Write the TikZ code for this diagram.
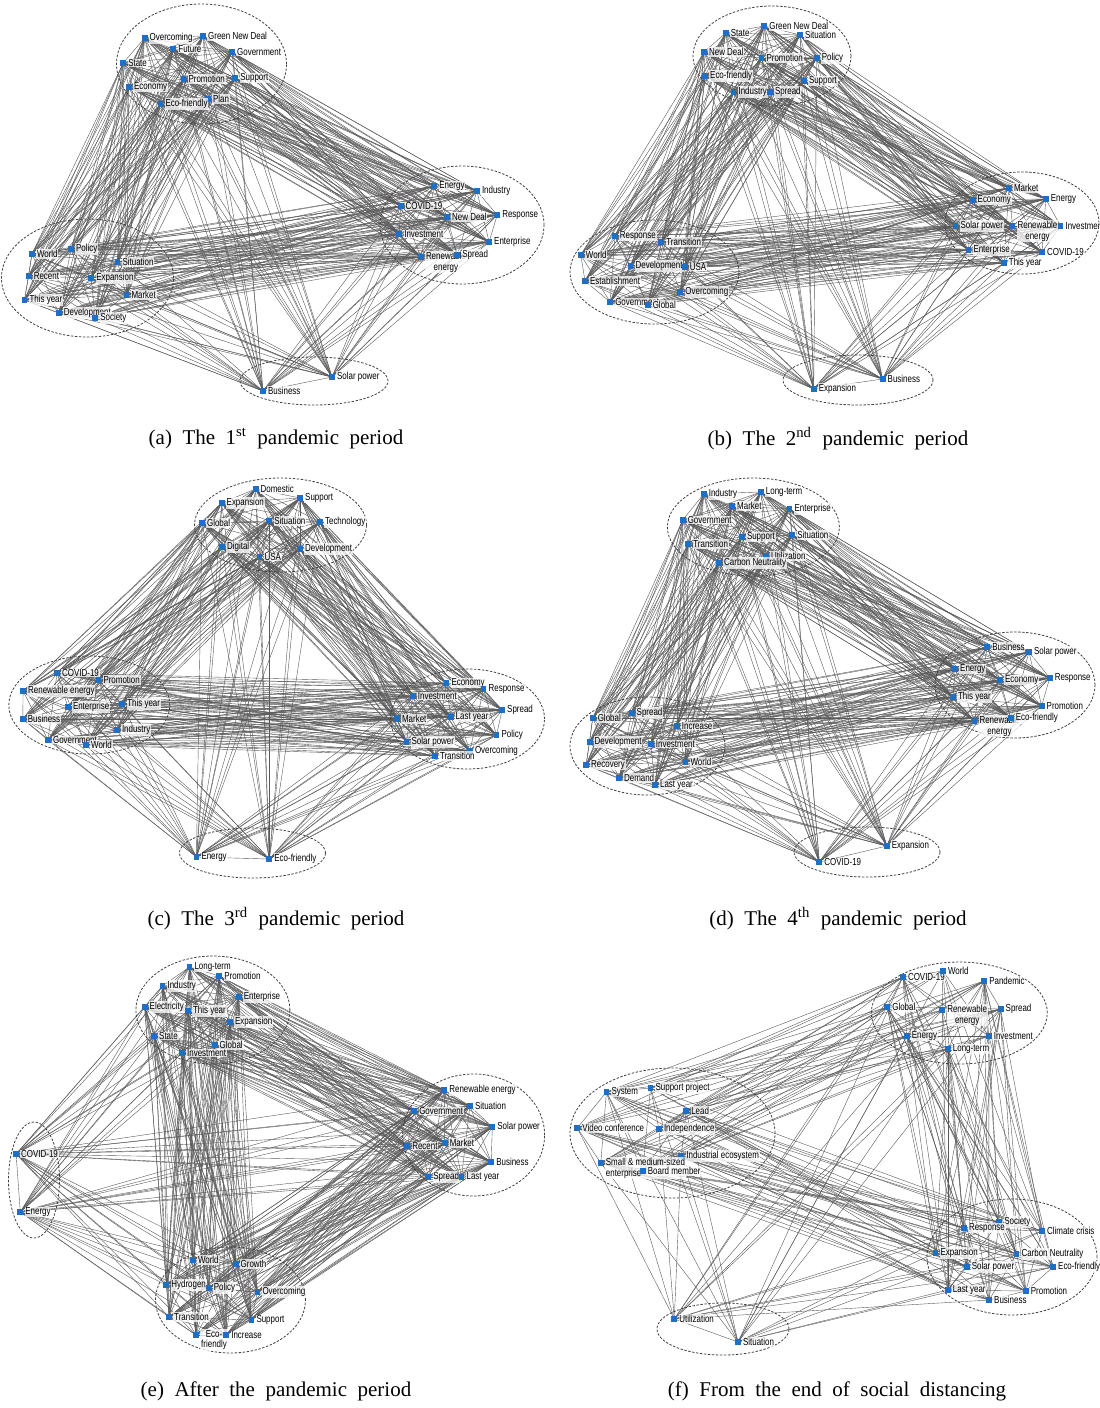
\documentclass[tikz,border=0pt]{standalone}
\usepackage{fontspec}
\setmainfont{Liberation Serif}
\newfontfamily\labfont[FakeStretch=0.78]{Liberation Sans}
\usetikzlibrary{calc}
\pgfdeclarelayer{bg}
\pgfdeclarelayer{paper}
\pgfsetlayers{paper,bg,main}
\definecolor{mkblue}{RGB}{31,111,196}
\definecolor{edgegray}{RGB}{90,90,90}
\tikzset{
 mk/.style={rectangle, fill=mkblue, draw=none, minimum size=2.9pt, inner sep=0pt},
 lab/.style={font=\labfont\fontsize{5.1}{5.3}\selectfont, inner sep=0.4pt, fill=white, fill opacity=0.75, text opacity=1, anchor=west},
 edge/.style={draw=edgegray, line width=0.2pt},
 grp/.style={draw=black!75, dash pattern=on 1.2pt off 0.8pt, line width=0.4pt},
 captxt/.style={font=\fontsize{10.5}{12}\selectfont, anchor=center, inner sep=0pt}
}
\newcommand\nd[4]{\node[mk] (#1) at (#2,#3) {}; \node[lab] (#1l) at ([xshift=0.3pt]#1.east) {#4};}
\newcommand\ndtwo[5]{\node[mk] (#1) at (#2,#3) {}; \node[lab, anchor=north west, align=#5] (#1l) at ([xshift=0.3pt,yshift=3pt]#1.east) {#4};}
\newcommand\grpell[4]{\draw[grp] (#1,#2) ellipse [x radius=#3*0.5pt, y radius=#4*0.5pt];}
\newcommand\fullgraph[2]{\foreach \i in {1,...,#2}{\foreach \j in {1,...,#2}{\ifnum\j>\i\relax \draw[edge] (#1\i.center) -- (#1\j.center);\fi}}}
\newcommand\partgraph[2]{\foreach \i in {1,...,#2}{\foreach \j in {1,...,#2}{\ifnum\j>\i\relax \pgfmathtruncatemacro\rr{mod(\i*7+\j*3,9)}\ifnum\rr<5\relax \draw[edge] (#1\i.center) -- (#1\j.center);\fi\fi}}}
\newcommand\gap{\hspace{0.5em}}
\begin{document}
\begin{tikzpicture}[x=0.5pt,y=-0.5pt]
\useasboundingbox (0,0) rectangle (1099,1408);
\begin{pgfonlayer}{paper}\fill[white] (0,0) rectangle (1099,1408);\end{pgfonlayer}

% ---------------- (a)
\grpell{201.5}{64}{85}{60}
\grpell{462}{225}{82}{59}
\grpell{87.5}{278}{86}{59}
\grpell{314}{381}{74}{24}
\nd{a1}{144.6}{38}{Overcoming}
\nd{a2}{203.1}{36}{Green New Deal}
\nd{a3}{173.3}{49}{Future}
\nd{a4}{232.1}{52}{Government}
\nd{a5}{123.2}{63}{State}
\nd{a6}{183.5}{79}{Promotion}
\nd{a7}{235.3}{78}{Support}
\nd{a8}{128.9}{87}{Economy}
\nd{a9}{208}{99}{Plan}
\nd{a10}{160.4}{104}{Eco-friendly}
\nd{a11}{434.2}{186}{Energy}
\nd{a12}{476.9}{191}{Industry}
\nd{a13}{400.6}{206}{COVID-19}
\nd{a14}{447.1}{217}{New Deal}
\nd{a15}{497.2}{215}{Response}
\nd{a16}{399.2}{234}{Investment}
\nd{a17}{489.1}{242}{Enterprise}
\ndtwo{a18}{420.9}{257}{Renewable\\energy}{center}
\nd{a19}{457.3}{255}{Spread}
\nd{a20}{31.9}{254}{World}
\nd{a21}{71}{249}{Policy}
\nd{a22}{117.5}{262}{Situation}
\nd{a23}{28.7}{276}{Recent}
\nd{a24}{91.2}{278}{Expansion}
\nd{a25}{24.5}{300}{This year}
\nd{a26}{126.4}{295}{Market}
\nd{a27}{58.8}{313}{Development}
\nd{a28}{95.2}{318}{Society}
\nd{a29}{263}{391}{Business}
\nd{a30}{332}{377}{Solar power}
\begin{pgfonlayer}{bg}\fullgraph{a}{30}\end{pgfonlayer}
\node[captxt] (capa) at (276,439) {(a)\gap The\gap 1\textsuperscript{st}\gap pandemic\gap period};

% ---------------- (b)
\grpell{772}{56}{79}{50}
\grpell{1022}{223}{77}{51}
\grpell{654.5}{272}{84.5}{52}
\grpell{858}{380}{75}{25}
\nd{b1}{725.8}{33}{State}
\nd{b2}{764.3}{26}{Green New Deal}
\nd{b3}{800}{35}{Situation}
\nd{b4}{704}{52}{New Deal}
\nd{b5}{761.5}{58}{Promotion}
\nd{b6}{816.8}{58}{Policy}
\nd{b7}{705.1}{76}{Eco-friendly}
\nd{b8}{803.9}{81}{Support}
\nd{b9}{733.5}{92}{Industry}
\nd{b10}{769.9}{92}{Spread}
\nd{b11}{1009}{188}{Market}
\nd{b12}{972.6}{200}{Economy}
\nd{b13}{1045.8}{199}{Energy}
\nd{b14}{955.5}{226}{Solar power}
\ndtwo{b15}{1012.5}{226}{Renewable\\energy}{center}
\nd{b16}{1060.5}{226}{Investment}
\nd{b17}{968.4}{250}{Enterprise}
\nd{b18}{1042}{252}{COVID-19}
\nd{b19}{1003.8}{263}{This year}
\nd{b20}{614.8}{236}{Response}
\nd{b21}{661.3}{242}{Transition}
\nd{b22}{580.8}{255}{World}
\nd{b23}{630.5}{266}{Development}
\nd{b24}{684.8}{267}{USA}
\nd{b25}{585}{281}{Establishment}
\nd{b26}{680.3}{292}{Overcoming}
\nd{b27}{610.2}{302}{Government}
\nd{b28}{647.7}{305}{Global}
\nd{b29}{813.7}{389}{Expansion}
\nd{b30}{882.6}{379}{Business}
\begin{pgfonlayer}{bg}\fullgraph{b}{30}\end{pgfonlayer}
\node[captxt] (capb) at (838,439) {(b)\gap The\gap 2\textsuperscript{nd}\gap pandemic\gap period};

% ---------------- (c)
\grpell{280.5}{525}{86}{47}
\grpell{89.3}{705}{80.5}{49}
\grpell{467.5}{719}{77}{50}
\grpell{252.5}{853}{73}{25}
\nd{c1}{255.6}{489}{Domestic}
\nd{c2}{221.6}{503}{Expansion}
\nd{c3}{300.1}{498}{Support}
\nd{c4}{202}{523}{Global}
\nd{c5}{269.3}{521}{Situation}
\nd{c6}{320}{522}{Technology}
\nd{c7}{222}{547}{Digital}
\nd{c8}{259.5}{557}{USA}
\nd{c9}{300.1}{549}{Development}
\nd{c10}{57.1}{673}{COVID-19}
\nd{c11}{98.4}{680}{Promotion}
\nd{c12}{23.1}{691}{Renewable energy}
\nd{c13}{67.9}{707}{Enterprise}
\nd{c14}{122.2}{704}{This year}
\nd{c15}{22.8}{719}{Business}
\nd{c16}{116.9}{730}{Industry}
\nd{c17}{48}{740}{Government}
\nd{c18}{86.1}{745}{World}
\nd{c19}{446.4}{683}{Economy}
\nd{c20}{483.5}{689}{Response}
\nd{c21}{412.8}{696}{Investment}
\nd{c22}{502.1}{710}{Spread}
\nd{c23}{397}{719}{Market}
\nd{c24}{450.6}{717}{Last year}
\nd{c25}{496.5}{735}{Policy}
\nd{c26}{406.5}{742}{Solar power}
\nd{c27}{469.9}{751}{Overcoming}
\nd{c28}{434.9}{756}{Transition}
\nd{c29}{196.4}{857}{Energy}
\nd{c30}{269.3}{859}{Eco-friendly}
\begin{pgfonlayer}{bg}\fullgraph{c}{30}\end{pgfonlayer}
\node[captxt] (capc) at (276,919) {(c)\gap The\gap 3\textsuperscript{rd}\gap pandemic\gap period};

% ---------------- (d)
\grpell{753.4}{527}{86}{49}
\grpell{1015}{685}{80}{53}
\grpell{647.5}{746}{77.5}{49}
\grpell{867}{852}{73}{25}
\nd{d1}{703.7}{494}{Industry}
\nd{d2}{760.8}{492}{Long-term}
\nd{d3}{732.1}{506}{Market}
\nd{d4}{789.5}{509}{Enterprise}
\nd{d5}{682.7}{520}{Government}
\nd{d6}{741.9}{537}{Support}
\nd{d7}{792.3}{535}{Situation}
\nd{d8}{688.3}{544}{Transition}
\nd{d9}{766}{556}{Utilization}
\nd{d10}{719.1}{563}{Carbon Neutrality}
\nd{d11}{987.3}{647}{Business}
\nd{d12}{1029}{652}{Solar power}
\nd{d13}{955.1}{669}{Energy}
\nd{d14}{1000}{680}{Economy}
\nd{d15}{1049.7}{678}{Response}
\nd{d16}{953}{697}{This year}
\nd{d17}{1041.6}{706}{Promotion}
\ndtwo{d18}{974.4}{721}{Renewable\\energy}{center}
\nd{d19}{1010.8}{718}{Eco-friendly}
\nd{d20}{592.7}{718}{Global}
\nd{d21}{631.6}{713}{Spread}
\nd{d22}{676.8}{726}{Increase}
\nd{d23}{589.6}{742}{Development}
\nd{d24}{650.8}{744}{Investment}
\nd{d25}{586.1}{765}{Recovery}
\nd{d26}{685.5}{762}{World}
\nd{d27}{619}{778}{Demand}
\nd{d28}{655}{785}{Last year}
\nd{d29}{819.3}{862}{COVID-19}
\nd{d30}{886.8}{846}{Expansion}
\begin{pgfonlayer}{bg}\fullgraph{d}{30}\end{pgfonlayer}
\node[captxt] (capd) at (838,919) {(d)\gap The\gap 4\textsuperscript{th}\gap pandemic\gap period};

% ---------------- (e)
\grpell{212.9}{1010}{77}{54}
\grpell{473.6}{1135}{71}{61}
\grpell{34}{1180}{25.5}{58}
\grpell{230.5}{1300}{75}{53}
\nd{e1}{189.4}{967}{Long-term}
\nd{e2}{219.2}{976}{Promotion}
\nd{e3}{162.5}{986}{Industry}
\nd{e4}{238.8}{997}{Enterprise}
\nd{e5}{144.6}{1007}{Electricity}
\nd{e6}{188}{1011}{This year}
\nd{e7}{230}{1022}{Expansion}
\nd{e8}{154.1}{1036}{State}
\nd{e9}{214.6}{1045}{Global}
\nd{e10}{182.1}{1053}{Investment}
\nd{e11}{444.3}{1090}{Renewable energy}
\nd{e12}{469.9}{1106}{Situation}
\nd{e13}{414.2}{1111}{Government}
\nd{e14}{492.3}{1127}{Solar power}
\nd{e15}{407.2}{1146}{Recent}
\nd{e16}{444.7}{1143}{Market}
\nd{e17}{491.2}{1162}{Business}
\nd{e18}{428.2}{1177}{Spread}
\nd{e19}{461.5}{1177}{Last year}
\nd{e20}{16.1}{1154}{COVID-19}
\nd{e21}{20.3}{1212}{Energy}
\nd{e22}{192.9}{1260}{World}
\nd{e23}{235.6}{1264}{Growth}
\nd{e24}{166.3}{1285}{Hydrogen}
\nd{e25}{208.7}{1288}{Policy}
\nd{e26}{257.4}{1292}{Overcoming}
\nd{e27}{169.1}{1317}{Transition}
\nd{e28}{251.4}{1320}{Support}
\ndtwo{e29}{196.1}{1335}{Eco-\\friendly}{center}
\nd{e30}{226.2}{1335}{Increase}
\begin{pgfonlayer}{bg}\fullgraph{e}{30}\end{pgfonlayer}
\node[captxt] (cape) at (276,1391) {(e)\gap After\gap the\gap pandemic\gap period};

% ---------------- (f)
\grpell{959.3}{1013}{88}{51}
\grpell{672.5}{1133}{102.5}{65}
\grpell{1012}{1257}{85}{58}
\grpell{723}{1329}{66}{26}
\nd{f1}{902.9}{977}{COVID-19}
\nd{f2}{942.9}{971}{World}
\nd{f3}{984.2}{981}{Pandemic}
\nd{f4}{887.2}{1007}{Global}
\ndtwo{f5}{942.2}{1010}{Renewable\\energy}{center}
\nd{f6}{1000.6}{1009}{Spread}
\nd{f7}{906.8}{1036}{Energy}
\nd{f8}{988.7}{1036}{Investment}
\nd{f9}{947.8}{1049}{Long-term}
\nd{f10}{606.4}{1092}{System}
\nd{f11}{650.5}{1088}{Support project}
\nd{f12}{686.2}{1111}{Lead}
\nd{f13}{577.3}{1128}{Video conference}
\nd{f14}{658.9}{1129}{Independence}
\nd{f15}{681.3}{1156}{Industrial ecosystem}
\ndtwo{f16}{600.8}{1163}{Small \& medium-sized\\enterprise}{left}
\nd{f17}{642.8}{1171}{Board member}
\nd{f18}{999.2}{1222}{Society}
\nd{f19}{963.9}{1228}{Response}
\nd{f20}{1042}{1231}{Climate crisis}
\nd{f21}{935.5}{1253}{Expansion}
\nd{f22}{1016.4}{1254}{Carbon Neutrality}
\nd{f23}{966.7}{1267}{Solar power}
\nd{f24}{1053.1}{1267}{Eco-friendly}
\nd{f25}{947.8}{1290}{Last year}
\nd{f26}{1025.8}{1291}{Promotion}
\nd{f27}{989.1}{1300}{Business}
\nd{f28}{674.3}{1319}{Utilization}
\nd{f29}{738}{1342}{Situation}
\begin{pgfonlayer}{bg}\partgraph{f}{29}\end{pgfonlayer}
\node[captxt] (capf) at (837,1391) {(f)\gap From\gap the\gap end\gap of\gap social\gap distancing};
\end{tikzpicture}
\end{document}
